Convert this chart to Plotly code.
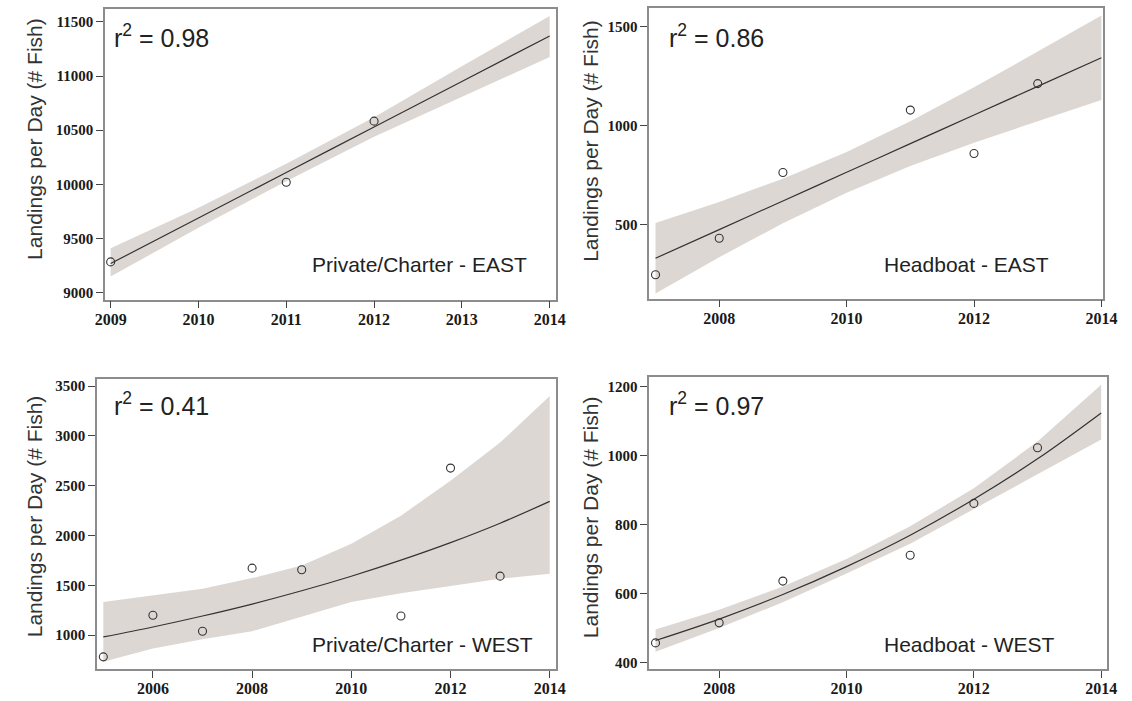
import plotly.graph_objects as go

# ---------------- data ----------------
# Panel 1: Private/Charter - EAST
pc_east_years = [2009, 2011, 2012]
pc_east_vals = [9285, 10020, 10584]
pc_east_fit_x = [2009, 2010, 2011, 2012, 2013, 2014]
pc_east_fit = [9270, 9690, 10110, 10530, 10950, 11370]
pc_east_lo = [9150, 9600, 10030, 10440, 10810, 11175]
pc_east_hi = [9410, 9785, 10190, 10620, 11090, 11555]

# Panel 2: Headboat - EAST
hb_east_years = [2007, 2008, 2009, 2011, 2012, 2013]
hb_east_vals = [245, 430, 763, 1079, 859, 1213]
hb_east_fit_x = [2007, 2008, 2009, 2010, 2011, 2012, 2013, 2014]
hb_east_fit = [329, 474, 619, 764, 909, 1054, 1199, 1344]
hb_east_lo = [151, 334, 506, 661, 796, 914, 1023, 1130]
hb_east_hi = [507, 614, 732, 867, 1022, 1194, 1375, 1558]

# Panel 3: Private/Charter - WEST
pc_west_years = [2005, 2006, 2007, 2008, 2009, 2011, 2012, 2013]
pc_west_vals = [783, 1200, 1040, 1673, 1657, 1193, 2677, 1593]
pc_west_fit_x = [2005, 2006, 2007, 2008, 2009, 2010, 2011, 2012, 2013, 2014]
pc_west_fit = [983, 1083, 1193, 1313, 1446, 1592, 1753, 1929, 2124, 2343]
pc_west_lo = [733, 867, 960, 1040, 1190, 1333, 1420, 1495, 1567, 1617]
pc_west_hi = [1333, 1400, 1467, 1573, 1700, 1917, 2200, 2550, 2933, 3400]

# Panel 4: Headboat - WEST
hb_west_years = [2007, 2008, 2009, 2011, 2012, 2013]
hb_west_vals = [457, 515, 636, 711, 861, 1022]
hb_west_fit_x = [2007, 2008, 2009, 2010, 2011, 2012, 2013, 2014]
hb_west_fit = [464, 526, 597, 678, 769, 873, 990, 1123]
hb_west_lo = [431, 500, 575, 658, 744, 843, 945, 1046]
hb_west_hi = [496, 553, 620, 700, 795, 905, 1040, 1205]

r2_labels = ["0.98", "0.86", "0.41", "0.97"]
panel_labels = ["Private/Charter - EAST", "Headboat - EAST",
                "Private/Charter - WEST", "Headboat - WEST"]
y_title = "Landings per Day (# Fish)"

# ---------------- styling ----------------
W, H = 1132, 701
BAND = "#dcd7d3"
LINE = "#333333"
AXIS = "#8c8c8c"

panels = [
    dict(yrs=pc_east_years, vals=pc_east_vals, fx=pc_east_fit_x, fy=pc_east_fit,
         lo=pc_east_lo, hi=pc_east_hi,
         xdom=(97, 558), ydom=(8, 300), xr=(2008.935, 2014.074), yr=(8936, 11619),
         xt=[2009, 2010, 2011, 2012, 2013, 2014], yt=[9000, 9500, 10000, 10500, 11000, 11500],
         r2=(104, 35), lab=(307, 265), title=(25, 138)),
    dict(yrs=hb_east_years, vals=hb_east_vals, fx=hb_east_fit_x, fy=hb_east_fit,
         lo=hb_east_lo, hi=hb_east_hi,
         xdom=(653, 1117), ydom=(7, 299), xr=(2006.90, 2014.03), yr=(124, 1596),
         xt=[2008, 2010, 2012, 2014], yt=[500, 1000, 1500],
         r2=(671, 35), lab=(891, 265), title=(593, 140)),
    dict(yrs=pc_west_years, vals=pc_west_vals, fx=pc_west_fit_x, fy=pc_west_fit,
         lo=pc_west_lo, hi=pc_west_hi,
         xdom=(89, 558), ydom=(380, 671), xr=(2004.875, 2014.13), yr=(660, 3567),
         xt=[2006, 2008, 2010, 2012, 2014], yt=[1000, 1500, 2000, 2500, 3000, 3500],
         r2=(104, 405), lab=(307, 646), title=(25, 517)),
    dict(yrs=hb_west_years, vals=hb_west_vals, fx=hb_west_fit_x, fy=hb_west_fit,
         lo=hb_west_lo, hi=hb_west_hi,
         xdom=(653, 1121), ydom=(378, 671), xr=(2006.90, 2014.095), yr=(381, 1226),
         xt=[2008, 2010, 2012, 2014], yt=[400, 600, 800, 1000, 1200],
         r2=(671, 405), lab=(891, 646), title=(593, 518)),
]

fig = go.Figure()
layout = dict(
    width=W, height=H, margin=dict(l=0, r=0, t=0, b=0),
    paper_bgcolor="white", plot_bgcolor="white", showlegend=False,
    font=dict(family="Liberation Sans, Arial", color="#222"),
)
annotations = []

xtickfont = dict(family="Liberation Serif, Times New Roman", size=16, color="#1a1a1a", weight="bold")
ytickfont = dict(family="Liberation Serif, Times New Roman", size=15, color="#1a1a1a", weight="bold")
sans = "Liberation Sans, Arial"

for i, p in enumerate(panels):
    k = "" if i == 0 else str(i + 1)
    xa, ya = "x" + k, "y" + k
    # confidence band
    fig.add_trace(go.Scatter(x=p["fx"] + p["fx"][::-1], y=p["hi"] + p["lo"][::-1],
                             fill="toself", fillcolor=BAND, line=dict(width=0),
                             mode="lines", hoverinfo="skip", xaxis=xa, yaxis=ya))
    # fitted curve
    fig.add_trace(go.Scatter(x=p["fx"], y=p["fy"], mode="lines",
                             line=dict(color=LINE, width=1.2, shape="spline"),
                             xaxis=xa, yaxis=ya))
    # observations
    fig.add_trace(go.Scatter(x=p["yrs"], y=p["vals"], mode="markers",
                             marker=dict(symbol="circle-open", size=8, color="#333",
                                         line=dict(width=1.1)),
                             xaxis=xa, yaxis=ya))
    x0, x1 = p["xdom"]
    y0, y1 = p["ydom"]
    layout["xaxis" + k] = dict(
        domain=[x0 / W, x1 / W], range=list(p["xr"]), anchor=ya,
        tickvals=p["xt"], ticktext=[str(v) for v in p["xt"]],
        ticks="outside", ticklen=7, tickcolor="#444", tickwidth=1,
        ticklabelstandoff=-3,
        showline=True, linecolor=AXIS, linewidth=1.5, mirror=True,
        showgrid=False, zeroline=False, tickfont=xtickfont,
    )
    layout["yaxis" + k] = dict(
        domain=[1 - y1 / H, 1 - y0 / H], range=list(p["yr"]), anchor=xa,
        tickvals=p["yt"], ticktext=[str(v) for v in p["yt"]],
        ticks="outside", ticklen=7, tickcolor="#444", tickwidth=1,
        showline=True, linecolor=AXIS, linewidth=1.5, mirror=True,
        showgrid=False, zeroline=False, tickfont=ytickfont,
    )
    # y-axis title
    tx, ty = p["title"]
    annotations.append(dict(
        text=y_title, xref="paper", yref="paper", x=tx / W, y=1 - ty / H,
        xanchor="center", yanchor="middle", textangle=-90, showarrow=False,
        font=dict(family=sans, size=21, color="#333"),
    ))
    # r^2 label
    rx, ry = p["r2"]
    annotations.append(dict(
        text="r<sup>2</sup> = " + r2_labels[i], xref="paper", yref="paper",
        x=rx / W, y=1 - ry / H, xanchor="left", yanchor="middle",
        showarrow=False, font=dict(family=sans, size=25, color="#222"),
    ))
    # panel label
    lx, ly = p["lab"]
    annotations.append(dict(
        text=panel_labels[i], xref="paper", yref="paper",
        x=lx / W, y=1 - ly / H, xanchor="left", yanchor="middle",
        showarrow=False, font=dict(family=sans, size=21, color="#222"),
    ))

layout["annotations"] = annotations
fig.update_layout(**layout)
fig.write_html(
    "out.html",
    config={"displayModeBar": False},
    post_script="document.body.style.margin='0';document.body.style.overflow='hidden';",
)
